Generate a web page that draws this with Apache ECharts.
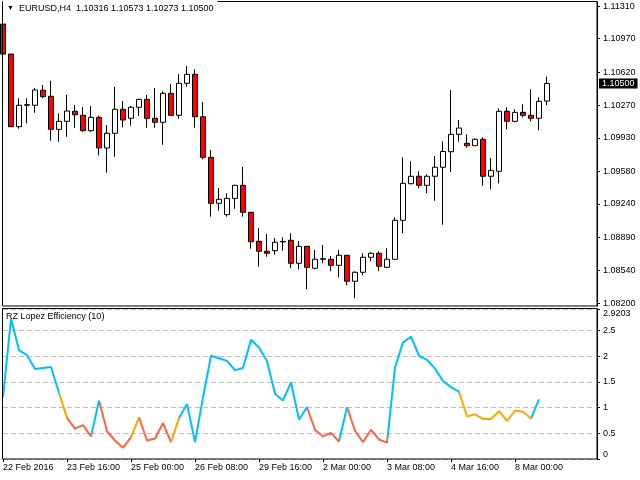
<!DOCTYPE html>
<html>
<head>
<meta charset="utf-8">
<script src="https://cdn.jsdelivr.net/npm/echarts@6/dist/echarts.min.js"></script>
<style>
  html, body { margin: 0; padding: 0; background: #fff; }
  #chart { width: 640px; height: 480px; }
</style>
</head>
<body>
<div id="chart"></div>
<script>
// EURUSD H4 bars, 22 Feb 2016 08:00 onwards
const opens = [1.11122, 1.10808, 1.10048, 1.10272, 1.10272, 1.10429, 1.10366, 1.10020, 1.10104, 1.10209,
  1.10167, 1.10006, 1.10146, 1.09825, 1.09979, 1.10230, 1.10136, 1.10251, 1.10334, 1.10136,
  1.10094, 1.10397, 1.10167, 1.10502, 1.10596, 1.10152, 1.09727, 1.09246, 1.09127, 1.09298,
  1.09434, 1.09152, 1.08848, 1.08744, 1.08750, 1.08842, 1.08859, 1.08618, 1.08796, 1.08566,
  1.08660, 1.08660, 1.08597, 1.08702, 1.08430, 1.08524, 1.08681, 1.08723, 1.08576, 1.08660,
  1.09068, 1.09451, 1.09529, 1.09434, 1.09529, 1.09623, 1.09786, 1.09968, 1.09874, 1.09849,
  1.09916, 1.09529, 1.09581, 1.10209, 1.10104, 1.10198, 1.10167, 1.10136, 1.10316]
const closes = [1.10808, 1.10048, 1.10272, 1.10278, 1.10432, 1.10362, 1.10020, 1.10104, 1.10212, 1.10173,
  1.10006, 1.10146, 1.09825, 1.09979, 1.10230, 1.10118, 1.10251, 1.10334, 1.10136, 1.10094,
  1.10397, 1.10167, 1.10502, 1.10596, 1.10152, 1.09727, 1.09246, 1.09288, 1.09298, 1.09434,
  1.09152, 1.08844, 1.08744, 1.08723, 1.08838, 1.08846, 1.08618, 1.08796, 1.08576, 1.08660,
  1.08666, 1.08597, 1.08702, 1.08430, 1.08524, 1.08681, 1.08723, 1.08587, 1.08660, 1.09068,
  1.09455, 1.09529, 1.09434, 1.09529, 1.09623, 1.09788, 1.09968, 1.10034, 1.09849, 1.09916,
  1.09529, 1.09591, 1.10209, 1.10104, 1.10198, 1.10167, 1.10136, 1.10313, 1.10500]
const lows = [1.10800, 1.10044, 1.10027, 1.10083, 1.10194, 1.10345, 1.09901, 1.09891, 1.09943, 1.10034,
  1.09995, 1.09992, 1.09748, 1.09566, 1.09734, 1.10041, 1.10058, 1.10160, 1.10037, 1.10037,
  1.09859, 1.10163, 1.10131, 1.10466, 1.10037, 1.09706, 1.09106, 1.09169, 1.09106, 1.09189,
  1.09106, 1.08771, 1.08583, 1.08687, 1.08708, 1.08750, 1.08566, 1.08555, 1.08346, 1.08555,
  1.08618, 1.08534, 1.08472, 1.08388, 1.08252, 1.08493, 1.08639, 1.08534, 1.08566, 1.08653,
  1.08932, 1.09445, 1.09403, 1.09351, 1.09273, 1.09022, 1.09574, 1.09891, 1.09828, 1.09846,
  1.09430, 1.09392, 1.09455, 1.10020, 1.10094, 1.10146, 1.10104, 1.10010, 1.10273]
const highs = [1.11185, 1.10810, 1.10345, 1.10345, 1.10453, 1.10484, 1.10529, 1.10188, 1.10382, 1.10275,
  1.10254, 1.10264, 1.10163, 1.10065, 1.10463, 1.10317, 1.10264, 1.10341, 1.10379, 1.10453,
  1.10418, 1.10494, 1.10599, 1.10683, 1.10648, 1.10306, 1.09804, 1.09406, 1.09351, 1.09440,
  1.09626, 1.09155, 1.08988, 1.08925, 1.08883, 1.08890, 1.08932, 1.08851, 1.08800, 1.08757,
  1.08810, 1.08694, 1.08757, 1.08705, 1.08534, 1.08723, 1.08733, 1.08744, 1.08775, 1.09099,
  1.09727, 1.09686, 1.09581, 1.09549, 1.09741, 1.09895, 1.10432, 1.10118, 1.09968, 1.09926,
  1.09937, 1.09720, 1.10240, 1.10251, 1.10230, 1.10282, 1.10439, 1.10355, 1.10573]

// RZ Lopez Efficiency (10), one value per bar (last bar has none)
const efficiency = [1.20, 2.73, 2.12, 2.02, 1.75, 1.77, 1.79, 1.29, 0.80, 0.59,
  0.66, 0.44, 1.14, 0.54, 0.36, 0.22, 0.42, 0.81, 0.36, 0.40,
  0.70, 0.33, 0.80, 1.07, 0.33, 1.20, 2.01, 1.96, 1.91, 1.73,
  1.77, 2.32, 2.17, 1.91, 1.27, 1.14, 1.49, 0.77, 1.01, 0.57,
  0.44, 0.51, 0.34, 1.01, 0.55, 0.33, 0.57, 0.38, 0.32, 1.78,
  2.27, 2.38, 2.01, 1.93, 1.76, 1.52, 1.40, 1.31, 0.83, 0.87,
  0.78, 0.78, 0.93, 0.74, 0.94, 0.92, 0.79, 1.16]
// state of each run of line segments: [from bar, to bar, state]
const effRuns = [[0, 7, 'trend'], [7, 8, 'mixed'], [8, 11, 'noise'], [11, 12, 'trend'],
  [12, 16, 'noise'], [16, 17, 'mixed'], [17, 21, 'noise'], [21, 22, 'mixed'],
  [22, 38, 'trend'], [38, 42, 'noise'], [42, 43, 'trend'], [43, 48, 'noise'],
  [48, 57, 'trend'], [57, 66, 'mixed'], [66, 68, 'trend']]

const tickLabels = ['22 Feb 2016', '23 Feb 16:00', '25 Feb 00:00', '26 Feb 08:00', '29 Feb 16:00',
  '2 Mar 00:00', '3 Mar 08:00', '4 Mar 16:00', '8 Mar 00:00']
const priceTicks = [1.08200, 1.08540, 1.08890, 1.09240, 1.09580, 1.09930, 1.10270, 1.10620, 1.10970, 1.11310]
const effTicks = [0, 0.5, 1, 1.5, 2, 2.5, 2.9203]
const slots = 75 // chart shift leaves empty space on the right

const font = "'Liberation Sans', Arial, sans-serif"
const stateColors = {trend: '#00BFFF', mixed: '#FFA500', noise: '#FF6347'}
const priceMin = 1.08171, priceMax = 1.11353

const categories = Array.from({length: slots}, (_, i) => String(i))
const candles = opens.map((o, i) => [o, closes[i], lows[i], highs[i]])
const last = opens.length - 1
const hasLabel = idx => idx % 8 === 0 && idx / 8 < tickLabels.length

const chart = echarts.init(document.getElementById('chart'), null, {renderer: 'canvas'})

chart.setOption({
  animation: false,
  backgroundColor: '#fff',
  textStyle: {fontFamily: font},
  title: [{
    text: '{t|▼}  EURUSD,H4  ' + [opens[last], highs[last], lows[last], closes[last]].map(v => v.toFixed(5)).join(' '),
    left: 3, top: 0, padding: [4, 4, 3, 4],
    backgroundColor: '#fff', z: 20,
    textStyle: {fontSize: 9, fontWeight: 'normal', color: '#000', fontFamily: font,
      rich: {t: {fontSize: 7, color: '#000'}}}
  }, {
    text: 'RZ Lopez Efficiency (10)',
    left: 6, top: 312, padding: 0, z: 20,
    textStyle: {fontSize: 9, fontWeight: 'normal', color: '#000', fontFamily: font}
  }],
  grid: [
    {left: 3, top: 2, width: 592, height: 304, outerBoundsMode: 'none'},
    {left: 3, top: 309, width: 592, height: 150, outerBoundsMode: 'none'}
  ],
  xAxis: [{
    type: 'category', gridIndex: 0, data: categories, boundaryGap: false,
    axisLine: {show: false}, axisTick: {show: false}, axisLabel: {show: false}, splitLine: {show: false}
  }, {
    type: 'category', gridIndex: 1, data: categories, boundaryGap: false,
    axisLine: {show: false},
    axisTick: {show: true, interval: hasLabel, length: 3, lineStyle: {color: '#000'}},
    axisLabel: {
      interval: hasLabel, margin: 4, align: 'left', fontSize: 9, color: '#000', fontFamily: font,
      formatter: (v, idx) => tickLabels[idx / 8] || ''
    },
    splitLine: {show: false}
  }],
  yAxis: [{
    type: 'value', gridIndex: 0, position: 'right', offset: 2,
    min: priceMin, max: priceMax, scale: true,
    axisLine: {show: true, lineStyle: {color: '#000'}},
    axisTick: {show: true, length: 3, customValues: priceTicks, lineStyle: {color: '#000'}},
    axisLabel: {customValues: priceTicks, margin: 6, fontSize: 9, color: '#000', fontFamily: font,
      formatter: v => v.toFixed(5)},
    splitLine: {show: false}
  }, {
    type: 'value', gridIndex: 1, position: 'right', offset: 2,
    min: 0, max: 2.9203,
    axisLine: {show: true, lineStyle: {color: '#000'}},
    axisTick: {show: true, length: 3, customValues: effTicks, lineStyle: {color: '#000'}},
    axisLabel: {customValues: effTicks, margin: 6, fontSize: 9, color: '#000', fontFamily: font,
      verticalAlignMinLabel: 'bottom', verticalAlignMaxLabel: 'top',
      formatter: v => String(v)},
    splitLine: {show: true, lineStyle: {color: '#c0c0c0', type: [5, 3], width: 1}}
  }, {
    // current price tag
    type: 'value', gridIndex: 0, position: 'right', offset: 2,
    min: priceMin, max: priceMax, scale: true, z: 30,
    axisLine: {show: false}, axisTick: {show: false}, splitLine: {show: false},
    axisLabel: {customValues: [closes[last]], margin: 2, fontSize: 9, color: '#fff', fontFamily: font,
      backgroundColor: '#000', padding: [1, 3, 0, 3],
      formatter: v => v.toFixed(5)}
  }],
  visualMap: {
    type: 'piecewise', show: false, seriesIndex: 1, dimension: 0,
    pieces: effRuns.map(r => ({gte: r[0], lt: r[1], color: stateColors[r[2]]})),
    outOfRange: {color: stateColors.trend}
  },
  graphic: [
    {type: 'rect', z: 15, silent: true, shape: {x: 2.5, y: 1.5, width: 594.5, height: 304.5},
      style: {fill: 'none', stroke: '#000', lineWidth: 1}},
    {type: 'rect', z: 15, silent: true, shape: {x: 2.5, y: 308.5, width: 594.5, height: 150.5},
      style: {fill: 'none', stroke: '#000', lineWidth: 1}}
  ],
  series: [{
    type: 'candlestick', xAxisIndex: 0, yAxisIndex: 0,
    data: candles, barWidth: 5, clip: true,
    itemStyle: {color: '#ffffff', color0: '#ff0000', borderColor: '#000', borderColor0: '#000', borderWidth: 1}
  }, {
    type: 'line', xAxisIndex: 1, yAxisIndex: 1,
    data: efficiency, symbol: 'none', smooth: false, clip: true,
    lineStyle: {width: 2}
  }]
})
</script>
</body>
</html>
